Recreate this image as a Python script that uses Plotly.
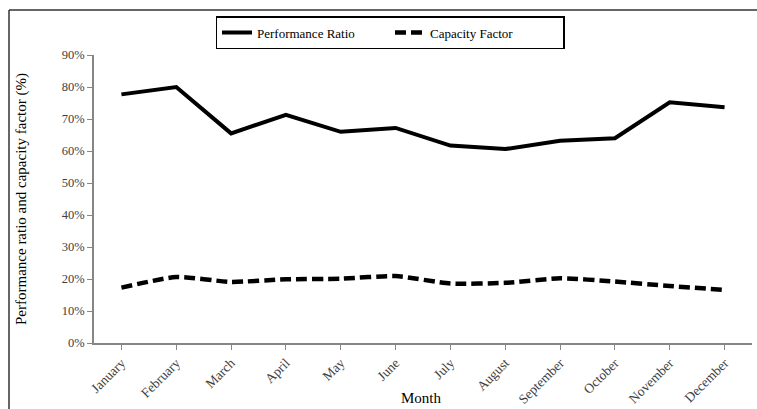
import plotly.graph_objects as go

months = ["January", "February", "March", "April", "May", "June", "July",
          "August", "September", "October", "November", "December"]
performance_ratio = [0.777, 0.800, 0.655, 0.713, 0.660, 0.672, 0.617, 0.606, 0.632, 0.640, 0.752, 0.737]
capacity_factor = [0.173, 0.206, 0.191, 0.199, 0.201, 0.209, 0.186, 0.188, 0.202, 0.192, 0.178, 0.166]
y_ticks = [0, 0.1, 0.2, 0.3, 0.4, 0.5, 0.6, 0.7, 0.8, 0.9]

W, H = 757, 409
L, R, T, B = 94, 5, 55, 66
pw, ph = W - L - R, H - T - B

def px_x(p):
    return (p - L) / pw

def px_y(p):
    return (H - B - p) / ph

serif = "Liberation Serif, Times New Roman, serif"

fig = go.Figure()
fig.add_trace(go.Scatter(x=months, y=performance_ratio, mode="lines", name="Performance Ratio",
                         line=dict(color="black", width=4)))
fig.add_trace(go.Scatter(x=months, y=capacity_factor, mode="lines", name="Capacity Factor",
                         line=dict(color="black", width=4.5, dash="11px,5px", shape="spline", smoothing=0.6)))

fig.update_layout(
    width=W, height=H,
    margin=dict(l=L, r=R, t=T, b=B, autoexpand=False),
    paper_bgcolor="white", plot_bgcolor="white",
    font=dict(family=serif, color="#262626", size=12),
    showlegend=True,
    legend=dict(orientation="h", x=px_x(390), xanchor="center", y=px_y(16), yanchor="top",
                bordercolor="black", borderwidth=1.5, bgcolor="white",
                font=dict(family=serif, size=13, color="black"),
                entrywidth=128, tracegroupgap=0),
    xaxis=dict(range=[-0.5, 11.5], showline=True, linecolor="#868686", linewidth=1.5,
               ticks="outside", ticklen=5, tickcolor="#868686", tickangle=-45, automargin=False,
               tickfont=dict(family=serif, size=13.5, color="#404040"),
               showgrid=False, zeroline=False),
    yaxis=dict(range=[0, 0.9], tickvals=y_ticks, tickformat=".0%", showline=True, automargin=False,
               linecolor="#868686", linewidth=1.5, ticks="outside", ticklen=5, tickcolor="#868686",
               tickfont=dict(family=serif, size=12.5, color="#404040"),
               showgrid=False, zeroline=False),
)

fig.add_annotation(text="Month", xref="paper", yref="paper", x=px_x(421), y=px_y(398),
                   xanchor="center", yanchor="middle", showarrow=False,
                   font=dict(family=serif, size=15, color="black"))
fig.add_annotation(text="Performance ratio and capacity factor (%)", xref="paper", yref="paper",
                   x=px_x(21), y=px_y(199), xanchor="center", yanchor="middle", showarrow=False,
                   textangle=-90, font=dict(family=serif, size=15, color="black"))

# chart-area frame (top and left edges visible in the reference)
fig.add_shape(type="line", xref="paper", yref="paper",
              x0=px_x(9), x1=px_x(757), y0=px_y(10), y1=px_y(10),
              line=dict(color="#333333", width=1.5), layer="below")
fig.add_shape(type="line", xref="paper", yref="paper",
              x0=px_x(9), x1=px_x(9), y0=px_y(10), y1=px_y(409),
              line=dict(color="#333333", width=1.5), layer="below")

fig.write_html("out.html", config={"displayModeBar": False},
               post_script="document.body.style.margin='0';document.body.style.overflow='hidden';")
